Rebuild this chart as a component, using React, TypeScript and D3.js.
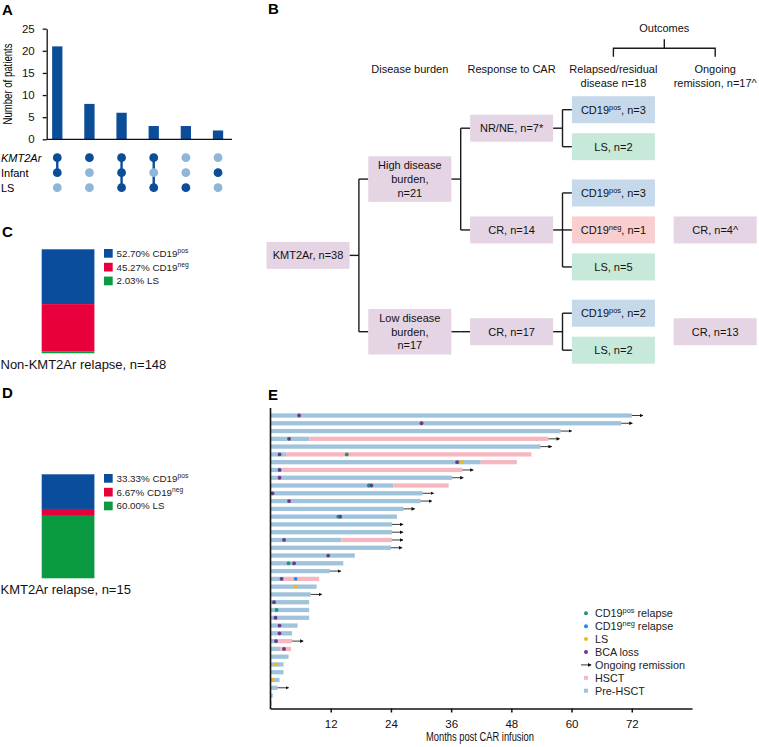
import { useEffect, useRef } from 'react'
import * as d3 from 'd3'

// Panel A - patient counts per feature combination
const setNames = ['KMT2Ar', 'Infant', 'LS']
const comboCounts = [21, 8, 6, 3, 3, 2]
const comboMembers = [
  [1, 1, 0],
  [1, 0, 0],
  [1, 1, 1],
  [1, 0, 1],
  [0, 0, 1],
  [0, 1, 0],
]
const countTicks = [0, 5, 10, 15, 20, 25]

// Panels C / D - relapse phenotype shares (%)
const relapseTypes = ['CD19{pos}', 'CD19{neg}', 'LS']
const nonKmtShares = [52.7, 45.27, 2.03]
const kmtShares = [33.33, 6.67, 60.0]

// Panel B - outcome tree
const treeLabels = [
  'KMT2Ar, n=38',
  'High disease|burden,|n=21',
  'Low disease|burden,|n=17',
  'NR/NE, n=7*',
  'CR, n=14',
  'CR, n=17',
  'CD19{pos}, n=3',
  'LS, n=2',
  'CD19{pos}, n=3',
  'CD19{neg}, n=1',
  'LS, n=5',
  'CD19{pos}, n=2',
  'LS, n=2',
  'CR, n=4^',
  'CR, n=13',
]
const treeParents = [-1, 0, 0, 1, 1, 2, 3, 3, 4, 4, 4, 5, 5, -1, -1]
const treeColumns = [0, 1, 1, 2, 2, 2, 3, 3, 3, 3, 3, 3, 3, 4, 4]
const treeKinds = ['grp', 'grp', 'grp', 'grp', 'grp', 'grp', 'pos', 'ls', 'pos', 'neg', 'ls', 'pos', 'ls', 'grp', 'grp']
// row slot of the boxes without children (others sit between their children)
const leafSlots: Record<number, number> = { 6: 0, 7: 1, 8: 2.25, 9: 3.25, 10: 4.25, 11: 5.5, 12: 6.5, 13: 3.25, 14: 6 }
const columnHeaders = ['Disease burden', 'Response to CAR', 'Relapsed/residual|disease n=18', 'Ongoing|remission, n=17^']

// Panel E - swimmer plot, one entry per patient (months)
const followUp = [72, 69.9, 57.8, 55.4, 53.8, 52, 49.1, 38.2, 36.2, 35.5, 30.3, 29.9, 26.5, 25.2, 24.2, 24.2, 24.2, 24,
  16.8, 14.5, 11.8, 9.7, 9.2, 8, 7.7, 7.7, 7.7, 5.4, 4.3, 4.3, 4.1, 3.6, 2.6, 2.6, 1.8, 1.4, 0.45, 0.2]
const hsctStart: (number | null)[] = [null, null, null, 7.7, null, 3.1, 41.9, 2.4, null, 24.5, null, null, null, null,
  null, null, 14.1, null, null, null, null, 2.7, null, null, null, null, null, null, null, 1.6, 1.9, null, null, null,
  null, null, null, null]
const ongoingRows = [0, 1, 2, 3, 4, 7, 8, 10, 11, 12, 14, 15, 16, 17, 20, 23, 29, 35]
const cd19posRelapse = [[5, 15.2], [9, 19.6], [13, 13.5], [19, 3.6], [25, 1.2]]
const cd19negRelapse = [[21, 5.0]]
const lsEvents = [[6, 38.0], [22, 5.0], [32, 1.0], [34, 0.4]]
const bcaLoss = [[0, 5.7], [1, 30.1], [3, 3.7], [5, 1.8], [6, 37.2], [7, 1.8], [8, 1.8], [9, 20.1], [10, 0.4],
  [11, 3.7], [13, 13.9], [16, 2.7], [18, 11.5], [19, 4.7], [21, 2.2], [24, 0.7], [26, 1.0], [27, 1.8], [28, 1.8],
  [29, 1.1], [30, 2.7]]
const monthTicks = [12, 24, 36, 48, 60, 72]
const swimLegend = ['CD19{pos} relapse', 'CD19{neg} relapse', 'LS', 'BCA loss', 'Ongoing remission', 'HSCT', 'Pre-HSCT']

const FONT = "'Liberation Sans', Arial, Helvetica, sans-serif"
const DARK = '#0b4d97'
const LIGHT = '#8db6d8'
const stackColors = ['#0a4d9c', '#e8003d', '#0b9a41']
const boxColors: Record<string, string> = { grp: '#e5d5e4', pos: '#c5d9ea', ls: '#c7e9d9', neg: '#f8cece' }
const PRE = '#9fc3db'
const HSCT = '#f7b7c1'
const dotColors = ['#1a9a6c', '#1d8fe1', '#f5b90a', '#6b3a87']

// writes "CD19{pos}, n=3" style labels with superscripts
function rich(sel: any, label: string, size: number) {
  const parts = label.split(/(\{[^}]+\})/).filter(Boolean)
  let raised = false
  parts.forEach((p) => {
    if (p.startsWith('{')) {
      sel.append('tspan').attr('font-size', size * 0.68).attr('dy', -size * 0.38).text(p.slice(1, -1))
      raised = true
    } else {
      const t = sel.append('tspan').text(p)
      if (raised) { t.attr('dy', size * 0.38); raised = false }
    }
  })
}

export default function App() {
  const svgRef = useRef<SVGSVGElement>(null)

  useEffect(() => {
    const svg = d3.select(svgRef.current)
    svg.selectAll('*').remove()
    svg.attr('font-family', FONT)

    const defs = svg.append('defs')
    defs.append('marker')
      .attr('id', 'arrowHead')
      .attr('viewBox', '0 0 6 6')
      .attr('refX', 5).attr('refY', 3)
      .attr('markerWidth', 4).attr('markerHeight', 4)
      .attr('orient', 'auto')
      .append('path').attr('d', 'M0,0L6,3L0,6Z').attr('fill', '#111')

    // panel letters
    const letters: [string, number, number][] = [['A', 2, 15], ['B', 268, 14], ['C', 2, 237], ['D', 2, 398], ['E', 268, 400]]
    letters.forEach(([l, x, y]) => {
      svg.append('text').attr('x', x).attr('y', y).attr('font-size', 15).attr('font-weight', 'bold').text(l)
    })

    // ---------- Panel A
    const gA = svg.append('g')
    const aX = d3.scaleBand<number>().domain(d3.range(comboCounts.length)).range([41.2, 234.1])
      .paddingInner(0.68).paddingOuter(0.34)
    const aY = d3.scaleLinear().domain([0, 25]).range([139.3, 28.7])

    gA.selectAll('rect.bar').data(comboCounts).join('rect')
      .attr('class', 'bar')
      .attr('x', (_d, i) => aX(i)!)
      .attr('y', d => aY(d))
      .attr('width', aX.bandwidth())
      .attr('height', d => aY(0) - aY(d))
      .attr('fill', DARK)

    const yAxisA = gA.append('g').attr('transform', 'translate(46.7,0)')
      .call(d3.axisLeft(aY).tickValues(countTicks).tickSize(4).tickPadding(8).tickSizeOuter(0))
    yAxisA.attr('font-family', FONT).attr('font-size', 11.5)
    yAxisA.selectAll('path,line').attr('stroke', '#111').attr('stroke-width', 1.3)
    yAxisA.selectAll('text').attr('fill', '#111')

    gA.append('line').attr('x1', 46.7).attr('x2', 232).attr('y1', aY(0)).attr('y2', aY(0))
      .attr('stroke', '#111').attr('stroke-width', 1.3)

    gA.append('text')
      .attr('transform', `translate(11.5,${(aY(0) + aY(25)) / 2}) rotate(-90)`)
      .attr('text-anchor', 'middle').attr('font-size', 12)
      .attr('textLength', 81).attr('lengthAdjust', 'spacingAndGlyphs')
      .text('Number of patients')

    const rowY = d3.scalePoint<string>().domain(setNames).range([157.7, 187.7])
    setNames.forEach((s) => {
      gA.append('text').attr('x', 1).attr('y', rowY(s)! + 4).attr('font-size', 11)
        .attr('font-style', s === 'KMT2Ar' ? 'italic' : 'normal').text(s)
    })
    comboMembers.forEach((m, i) => {
      const cx = aX(i)! + aX.bandwidth() / 2
      const on = setNames.filter((_s, j) => m[j])
      if (on.length > 1) {
        gA.append('line').attr('x1', cx).attr('x2', cx)
          .attr('y1', rowY(on[0])!).attr('y2', rowY(on[on.length - 1])!)
          .attr('stroke', DARK).attr('stroke-width', 2.4)
      }
      setNames.forEach((s, j) => {
        gA.append('circle').attr('cx', cx).attr('cy', rowY(s)!).attr('r', 4.4)
          .attr('fill', m[j] ? DARK : LIGHT)
      })
    })

    // ---------- Panels C and D
    const stacked = (shares: number[], top: number, caption: string, capY: number) => {
      const g = svg.append('g')
      const y = d3.scaleLinear().domain([0, 100]).range([top, top + 104])
      let acc = 0
      shares.forEach((s, i) => {
        g.append('rect').attr('x', 41.7).attr('width', 52.7)
          .attr('y', y(acc)).attr('height', y(acc + s) - y(acc)).attr('fill', stackColors[i])
        acc += s
        const ly = top + 4 + i * 13.8
        g.append('rect').attr('x', 104).attr('y', ly - 4.3).attr('width', 8.7).attr('height', 8.7)
          .attr('fill', stackColors[i])
        const t = g.append('text').attr('x', 116.5).attr('y', ly + 3.4).attr('font-size', 9.8).attr('fill', '#222')
        rich(t, `${s.toFixed(2)}% ${relapseTypes[i]}`, 9.8)
      })
      g.append('text').attr('x', 0.5).attr('y', capY).attr('font-size', 13).attr('fill', '#111').text(caption)
    }
    stacked(nonKmtShares, 249.3, 'Non-KMT2Ar relapse, n=148', 368.5)
    stacked(kmtShares, 474.3, 'KMT2Ar relapse, n=15', 594)

    // ---------- Panel B
    const gB = svg.append('g').attr('font-size', 11).attr('fill', '#111')
    const bX = d3.scaleLinear().domain([0, 4]).range([308, 715.2])
    const bY = d3.scaleLinear().domain([0, 1]).range([109.7, 146.7])
    const boxW = 83
    const slots: number[] = []
    const slotOf = (i: number): number => {
      if (slots[i] !== undefined) return slots[i]
      const kids = treeParents.map((p, j) => (p === i ? j : -1)).filter(j => j >= 0)
      slots[i] = kids.length ? d3.mean(kids, slotOf)! : leafSlots[i]
      return slots[i]
    }
    treeLabels.forEach((_l, i) => slotOf(i))

    // connectors
    treeLabels.forEach((_l, i) => {
      const kids = treeParents.map((p, j) => (p === i ? j : -1)).filter(j => j >= 0)
      if (!kids.length) return
      const x0 = bX(treeColumns[i]) + boxW / 2
      const x2 = bX(treeColumns[kids[0]]) - boxW / 2
      const xm = (x0 + x2) / 2
      const y0 = bY(slots[i])
      const ys = kids.map(k => bY(slots[k]))
      const line = (a: number, b: number, c: number, d: number) =>
        gB.append('line').attr('x1', a).attr('y1', b).attr('x2', c).attr('y2', d)
          .attr('stroke', '#1a1a1a').attr('stroke-width', 1.4)
      line(x0, y0, xm, y0)
      line(xm, Math.min(y0, ...ys), xm, Math.max(y0, ...ys))
      ys.forEach(yk => line(xm, yk, x2, yk))
    })

    treeLabels.forEach((l, i) => {
      const lines = l.split('|')
      const h = lines.length > 1 ? 45.6 : 27
      const cx = bX(treeColumns[i])
      const cy = bY(slots[i])
      gB.append('rect').attr('x', cx - boxW / 2).attr('y', cy - h / 2).attr('width', boxW).attr('height', h)
        .attr('fill', boxColors[treeKinds[i]])
      lines.forEach((ln, k) => {
        const t = gB.append('text').attr('x', cx).attr('y', cy + 4 + (k - (lines.length - 1) / 2) * 13.6)
          .attr('text-anchor', 'middle')
        rich(t, ln, 11)
      })
    })

    columnHeaders.forEach((hdr, c) => {
      hdr.split('|').forEach((ln, k) => {
        gB.append('text').attr('x', bX(c + 1)).attr('y', 73 + k * 13.7).attr('text-anchor', 'middle').text(ln)
      })
    })
    const oL = bX(3), oR = bX(4), oM = (oL + oR) / 2
    gB.append('path')
      .attr('d', `M${oL},56.7V48.3H${oR}V56.7M${oM},48.3V39.3`)
      .attr('fill', 'none').attr('stroke', '#1a1a1a').attr('stroke-width', 1.4)
    gB.append('text').attr('x', oM).attr('y', 32).attr('text-anchor', 'middle').text('Outcomes')

    // ---------- Panel E
    const gE = svg.append('g')
    const ex = d3.scaleLinear().domain([0, 84]).range([270.5, 692])
    const ey = d3.scaleBand<number>().domain(d3.range(followUp.length))
      .range([411.6, 411.6 + 7.78 * followUp.length]).paddingInner(0.45).paddingOuter(0.225)
    const bw = ey.bandwidth()

    followUp.forEach((len, i) => {
      const h = hsctStart[i]
      const preEnd = h === null ? len : h
      gE.append('rect').attr('x', ex(0)).attr('y', ey(i)!).attr('width', ex(preEnd) - ex(0)).attr('height', bw)
        .attr('fill', PRE)
      if (h !== null) {
        gE.append('rect').attr('x', ex(h)).attr('y', ey(i)!).attr('width', ex(len) - ex(h)).attr('height', bw)
          .attr('fill', HSCT)
      }
    })
    ongoingRows.forEach((i) => {
      const yc = ey(i)! + bw / 2
      gE.append('line').attr('x1', ex(followUp[i])).attr('x2', ex(followUp[i]) + 11)
        .attr('y1', yc).attr('y2', yc).attr('stroke', '#222').attr('stroke-width', 0.9)
        .attr('marker-end', 'url(#arrowHead)')
    })
    const eventSets = [cd19posRelapse, cd19negRelapse, lsEvents, bcaLoss]
    eventSets.forEach((set, k) => {
      gE.selectAll(`circle.ev${k}`).data(set).join('circle')
        .attr('class', `ev${k}`)
        .attr('cx', d => ex(d[1]))
        .attr('cy', d => ey(d[0])! + bw / 2)
        .attr('r', 1.9)
        .attr('fill', dotColors[k])
    })

    const xAxisE = gE.append('g').attr('transform', 'translate(0,708.5)')
      .call(d3.axisBottom(ex).tickValues(monthTicks).tickSize(4).tickPadding(7).tickSizeOuter(0))
    xAxisE.attr('font-family', FONT).attr('font-size', 11.5)
    xAxisE.selectAll('path,line').attr('stroke', '#111').attr('stroke-width', 1.5)
    xAxisE.selectAll('text').attr('fill', '#111')
    gE.append('line').attr('x1', ex(0)).attr('x2', ex(0)).attr('y1', 408).attr('y2', 709.2)
      .attr('stroke', '#111').attr('stroke-width', 1.6)
    gE.append('text').attr('x', 480).attr('y', 741).attr('text-anchor', 'middle').attr('font-size', 12.5)
      .attr('textLength', 108).attr('lengthAdjust', 'spacingAndGlyphs').attr('fill', '#111')
      .text('Months post CAR infusion')

    // legend
    swimLegend.forEach((lab, k) => {
      const ly = 613.3 + k * 12.9
      if (k < 4) {
        gE.append('circle').attr('cx', 586).attr('cy', ly).attr('r', 2).attr('fill', dotColors[k])
      } else if (k === 4) {
        gE.append('line').attr('x1', 581).attr('x2', 591).attr('y1', ly).attr('y2', ly)
          .attr('stroke', '#222').attr('stroke-width', 0.9).attr('marker-end', 'url(#arrowHead)')
      } else {
        gE.append('rect').attr('x', 584).attr('y', ly - 2).attr('width', 4).attr('height', 4)
          .attr('fill', k === 5 ? HSCT : PRE)
      }
      const t = gE.append('text').attr('x', 595).attr('y', ly + 3.8).attr('font-size', 10.8).attr('fill', '#222')
      rich(t, lab, 10.8)
    })
  }, [])

  return (
    <div>
      <style>{'body{margin:0}'}</style>
      <svg ref={svgRef} width={759} height={747} style={{ display: 'block', background: '#fff' }} />
    </div>
  )
}
